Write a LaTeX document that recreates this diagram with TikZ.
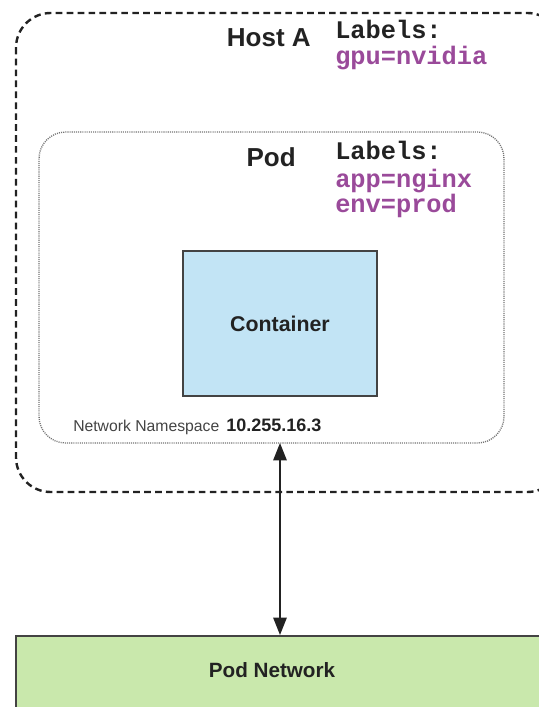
\documentclass[tikz,border=0pt]{standalone}
\usepackage{fontspec}
\setmainfont{Liberation Sans}
\newfontfamily\monob{Liberation Mono}
\usetikzlibrary{arrows.meta}
\definecolor{lblpurple}{HTML}{9A4A9A}
\definecolor{ctrblue}{HTML}{C2E4F5}
\definecolor{netgreen}{HTML}{C9E8AC}
\definecolor{txtdark}{HTML}{222222}
\tikzset{
  hostbox/.style={draw=txtdark, line width=1.8pt, dash pattern=on 5pt off 3.2pt, rounded corners=26pt},
  podbox/.style={draw=gray!90!black, line width=1pt, dash pattern=on 0.8pt off 0.8pt, rounded corners=20pt},
  ctrbox/.style={draw=txtdark!85, line width=1.3pt, fill=ctrblue},
  netbox/.style={draw=txtdark!85, line width=1.5pt, fill=netgreen},
  title/.style={font=\bfseries\fontsize{19.5}{22}\selectfont, text=txtdark, inner sep=0pt},
  lbl/.style={font=\monob\bfseries\fontsize{19}{19}\selectfont, align=left, inner sep=0pt},
  bigtip/.tip={Triangle[length=13pt,width=10pt]},
}
\begin{document}
\begin{tikzpicture}[x=0.75pt,y=-0.75pt]
\useasboundingbox (0,0) rectangle (539,707);
\clip (0,0) rectangle (539,707);
% host
\draw[hostbox] (16,13) rectangle (562,492);
% pod
\draw[podbox] (39,132) rectangle (504,443);
\coordinate (podS) at (280,443);
% container
\node[ctrbox, minimum width=194*0.75pt, minimum height=145*0.75pt, inner sep=0pt,
  font=\bfseries\fontsize{16}{18}\selectfont, text=txtdark] (ctr) at (280,323.5) {Container};
% host title & labels
\node[title, anchor=base east] (hosttitle) at (311,46) {Host A};
\node[lbl, anchor=base west, text=txtdark] (hostlbl) at (335,38) {Labels:};
\node[lbl, anchor=base west, text=lblpurple] (hostval) at (335,64) {gpu=nvidia};
% pod title & labels
\node[title, anchor=base east] (podtitle) at (296,166) {Pod};
\node[lbl, anchor=base west, text=txtdark] (podlbl) at (335,159) {Labels:};
\node[lbl, anchor=base west, text=lblpurple] (podval1) at (335,187) {app=nginx};
\node[lbl, anchor=base west, text=lblpurple] (podval2) at (335,212) {env=prod};
% network namespace
\node[anchor=base west, inner sep=0pt, font=\fontsize{11.8}{13}\selectfont, text=txtdark!85] (ns) at (73,431) {Network Namespace};
\node[anchor=base west, inner sep=0pt, font=\bfseries\fontsize{13.5}{15}\selectfont, text=txtdark] (ip) at (226,431) {10.255.16.3};
% pod network
\node[netbox, anchor=north west, minimum width=540*0.75pt, minimum height=90*0.75pt, inner sep=0pt] (net) at (15,635) {};
\node[font=\bfseries\fontsize{15.5}{18}\selectfont, text=txtdark] (nettext) at (272,670) {Pod Network};
% arrow
\draw[bigtip-bigtip, line width=1.4pt, draw=txtdark, fill=txtdark]
  (podS) -- (podS |- net.north);
\end{tikzpicture}
\end{document}
